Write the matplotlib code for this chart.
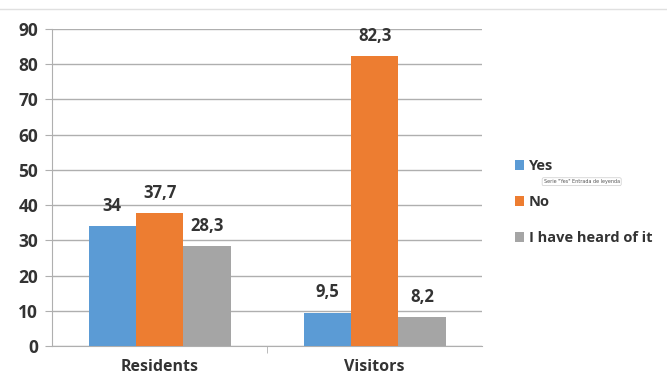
import matplotlib
matplotlib.use("Agg")
import matplotlib.pyplot as plt
import numpy as np
from matplotlib.lines import Line2D

categories = ["Residents", "Visitors"]
series_names = ["Yes", "No", "I have heard of it"]
yes_vals = [34, 9.5]
no_vals = [37.7, 82.3]
heard_vals = [28.3, 8.2]
yticks = [0, 10, 20, 30, 40, 50, 60, 70, 80, 90]

colors = ["#5B9BD5", "#ED7D31", "#A5A5A5"]
series = [yes_vals, no_vals, heard_vals]

fig = plt.figure(figsize=(6.67, 3.77), dpi=100)
ax = fig.add_axes([0.078, 0.082, 0.645, 0.841])

x = np.arange(len(categories))
w = 0.22
for i, (vals, c, name) in enumerate(zip(series, colors, series_names)):
    pos = x + (i - 1) * w
    ax.bar(pos, vals, width=w, color=c, label=name, zorder=3)
    for p, v in zip(pos, vals):
        ax.text(p, v + 3.2, f"{v:g}".replace(".", ","), ha="center", va="bottom",
                fontsize=12, fontweight="bold", color="#333333", family="Open Sans")

ax.set_xlim(-0.5, 1.5)
ax.set_ylim(0, 90)
ax.set_yticks(yticks)
ax.yaxis.grid(True, color="#AFAFAF", linewidth=1, zorder=0)
ax.set_axisbelow(True)
for s in ["top", "right"]:
    ax.spines[s].set_visible(False)
ax.spines["left"].set_color("#AFAFAF")
ax.spines["bottom"].set_color("#AFAFAF")
ax.tick_params(axis="y", length=5, color="#AFAFAF", labelsize=12.5, labelcolor="#333333", pad=5)
ax.set_xticks(x)
ax.set_xticklabels(categories, fontsize=11.5, fontweight="bold", color="#333333", family="Open Sans")
ax.tick_params(axis="x", length=0, pad=9)
for lbl in ax.get_yticklabels():
    lbl.set_fontweight("bold")
    lbl.set_family("Open Sans")
ax.set_xticks([0.5], minor=True)
ax.tick_params(axis="x", which="minor", length=5, color="#AFAFAF")

fig.add_artist(Line2D([0, 1], [1 - 9/377, 1 - 9/377], color="#E0E0E0", linewidth=1))

leg = fig.legend(loc="upper left", bbox_to_anchor=(0.752, 0.612), frameon=False,
                 handlelength=0.65, handleheight=0.65, handletextpad=0.3,
                 labelspacing=1.5, prop={"family": "Open Sans", "weight": "bold", "size": 10.5})
for t in leg.get_texts():
    t.set_color("#333333")

fig.text(0.815, 0.518, 'Serie "Yes" Entrada de leyenda', fontsize=3.5, color="#555555",
         ha="left", va="center",
         bbox=dict(boxstyle="round,pad=0.3", fc="white", ec="#CCCCCC", lw=0.5))

fig.savefig("out.png", dpi=100)
